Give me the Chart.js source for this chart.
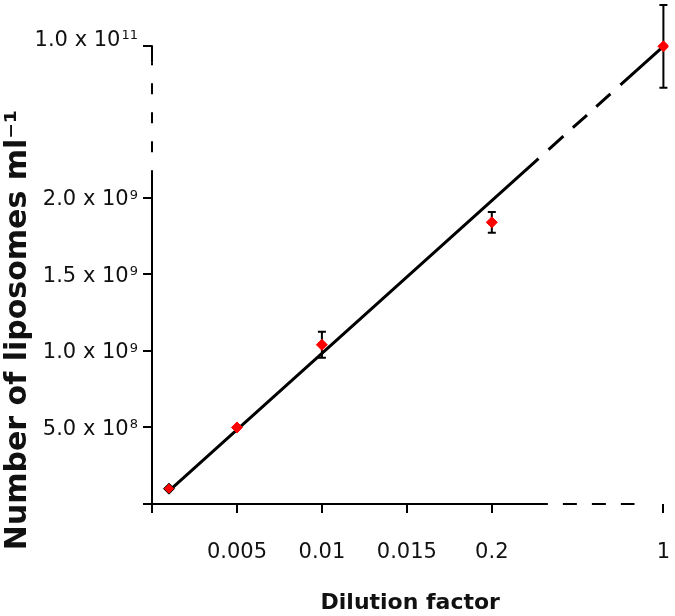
<!DOCTYPE html>
<html>
<head>
<meta charset="utf-8">
<script src="https://cdn.jsdelivr.net/npm/chart.js@4/dist/chart.umd.min.js"></script>
<style>
  body { margin: 0; background: #fff; }
</style>
</head>
<body>
<canvas id="dilution_chart" width="675" height="616"></canvas>
<script>
// measured values
var dilution = [0.001, 0.005, 0.01, 0.02, 1];
var liposomes = [1.0e8, 5.0e8, 1.04e9, 1.84e9, 1.0e11];
var liposomesErr = [0, 0, 0.085e9, 0.068e9, 2.5e10];

// fitted line ends
var fitX = [0.001, 1];
var fitY = [8.5e7, 1.0e11];

var xTickValues = [0, 0.005, 0.01, 0.015, 0.02, 1];
var xTickLabels = ['', '0.005', '0.01', '0.015', '0.2', '1'];
var yTickValues = [0, 5e8, 1e9, 1.5e9, 2e9, 1e11];
var yTickBase = ['', '5.0 x 10', '1.0 x 10', '1.5 x 10', '2.0 x 10', '1.0 x 10'];
var yTickExp = ['', '8', '9', '9', '9', '11'];

// broken axes: values past the break are squeezed in next to the first segment
function mapX(v) {
  return v <= 0.022 ? v : 0.0301 + (v - 1) * 0.005;
}
function mapY(v) {
  return v <= 2.2e9 ? v : 2.99e9 + (v - 1e11) * 0.0108;
}

var brokenAxes = {
  id: 'brokenAxes',
  beforeDatasetsDraw: function(chart) {
    var ctx = chart.ctx;
    var x = chart.scales.x, y = chart.scales.y;
    var ax = x.getPixelForValue(0), ay = y.getPixelForValue(0);

    ctx.save();
    ctx.strokeStyle = '#000';
    ctx.lineWidth = 2;

    // y axis: solid, dashed break, short solid end at the top
    var yBreak = y.getPixelForValue(2.18e9);
    var yResume = y.getPixelForValue(2.885e9);
    var yEnd = y.getPixelForValue(mapY(1e11));
    ctx.beginPath();
    ctx.moveTo(ax, ay + 1);
    ctx.lineTo(ax, yBreak);
    ctx.moveTo(ax, yResume);
    ctx.lineTo(ax, yEnd - 1);
    ctx.stroke();
    ctx.setLineDash([11, 18]);
    ctx.lineDashOffset = 11;
    ctx.beginPath();
    ctx.moveTo(ax, yBreak);
    ctx.lineTo(ax, yResume);
    ctx.stroke();

    // x axis: solid then dashes up to the last tick
    var xBreak = x.getPixelForValue(0.0233);
    var xStop = x.getPixelForValue(0.0284);
    ctx.setLineDash([]);
    ctx.beginPath();
    ctx.moveTo(ax, ay);
    ctx.lineTo(xBreak, ay);
    ctx.stroke();
    ctx.setLineDash([14, 15]);
    ctx.lineDashOffset = 14;
    ctx.beginPath();
    ctx.moveTo(xBreak, ay);
    ctx.lineTo(xStop, ay);
    ctx.stroke();
    ctx.setLineDash([]);

    // error bars
    for (var i = 0; i < dilution.length; i++) {
      if (!liposomesErr[i]) continue;
      var px = x.getPixelForValue(mapX(dilution[i]));
      var top = y.getPixelForValue(mapY(liposomes[i] + liposomesErr[i]));
      var bot = y.getPixelForValue(mapY(liposomes[i] - liposomesErr[i]));
      ctx.beginPath();
      ctx.moveTo(px, top);
      ctx.lineTo(px, bot);
      ctx.moveTo(px - 4, top);
      ctx.lineTo(px + 4, top);
      ctx.moveTo(px - 4, bot);
      ctx.lineTo(px + 4, bot);
      ctx.stroke();
    }
    ctx.restore();
  },
  afterDraw: function(chart) {
    var ctx = chart.ctx;
    var y = chart.scales.y;
    ctx.save();
    ctx.fillStyle = '#111';

    // y tick labels with superscript powers
    var right = y.right - 14;
    for (var i = 0; i < yTickValues.length; i++) {
      if (!yTickBase[i]) continue;
      var py = y.getPixelForValue(mapY(yTickValues[i]));
      if (i === yTickValues.length - 1) py -= 8;
      ctx.font = '13px "DejaVu Sans"';
      ctx.textAlign = 'left';
      ctx.textBaseline = 'alphabetic';
      var expW = ctx.measureText(yTickExp[i]).width;
      ctx.fillText(yTickExp[i], right - expW, py + 1);
      ctx.font = '21px "DejaVu Sans"';
      ctx.textAlign = 'right';
      ctx.fillText(yTickBase[i], right - expW - 1, py + 7.5);
    }

    // y axis title
    ctx.translate(18, 330);
    ctx.rotate(-Math.PI / 2);
    ctx.font = 'bold 30px "DejaVu Sans"';
    ctx.textAlign = 'center';
    ctx.textBaseline = 'middle';
    ctx.fillText('Number of liposomes ml⁻¹', 0, 0);
    ctx.restore();
  }
};

function renderDilutionChart() {
  var ctx = document.getElementById('dilution_chart').getContext('2d');
  var points = dilution.map(function(v, i) {
    return { x: mapX(v), y: mapY(liposomes[i]) };
  });
  var fit = fitX.map(function(v, i) {
    return { x: mapX(v), y: mapY(fitY[i]) };
  });

  new Chart(ctx, {
    type: 'scatter',
    data: {
      datasets: [{
        label: 'Liposomes',
        data: points,
        pointStyle: 'rectRot',
        pointRadius: 5.5,
        backgroundColor: '#ff0000',
        borderColor: ['#000', '#ff0000', '#ff0000', '#ff0000', '#ff0000'],
        borderWidth: 1,
        order: 1
      }, {
        label: 'Fit',
        data: fit,
        showLine: true,
        pointRadius: 0,
        borderColor: '#000',
        borderWidth: 3,
        borderDash: [497, 13.5, 20, 12.7, 19, 12.5, 19, 13.5, 400],
        order: 2
      }]
    },
    options: {
      responsive: false,
      animation: false,
      layout: { padding: { top: 3, right: 5, left: 0, bottom: 0 } },
      plugins: {
        legend: { display: false },
        tooltip: { enabled: false }
      },
      scales: {
        x: {
          type: 'linear',
          min: 0,
          max: 0.0304,
          afterFit: function(scale) {
            scale.height = 112;
            scale.paddingLeft = 0;
            scale.paddingRight = 0;
          },
          afterBuildTicks: function(scale) {
            scale.ticks = xTickValues.map(function(v) { return { value: mapX(v) }; });
          },
          border: { display: false },
          grid: {
            drawOnChartArea: false,
            drawTicks: true,
            tickLength: 9,
            lineWidth: 2,
            color: '#000'
          },
          ticks: {
            autoSkip: false,
            maxRotation: 0,
            padding: 27,
            color: '#111',
            font: { family: '"DejaVu Sans"', size: 21 },
            callback: function(val, i) { return xTickLabels[i]; }
          },
          title: {
            display: true,
            text: 'Dilution factor',
            color: '#111',
            padding: { top: 2, bottom: 0 },
            font: { family: '"DejaVu Sans"', size: 22, weight: 'bold' }
          }
        },
        y: {
          type: 'linear',
          min: 0,
          max: 3.25e9,
          afterFit: function(scale) {
            scale.width = 152;
            scale.paddingTop = 0;
            scale.paddingBottom = 0;
          },
          afterBuildTicks: function(scale) {
            scale.ticks = yTickValues.map(function(v) { return { value: mapY(v) }; });
          },
          border: { display: false },
          grid: {
            drawOnChartArea: false,
            drawTicks: true,
            tickLength: 9,
            lineWidth: 2,
            color: '#000'
          },
          ticks: { display: false }
        }
      }
    },
    plugins: [brokenAxes]
  });
}

renderDilutionChart();
</script>
</body>
</html>
